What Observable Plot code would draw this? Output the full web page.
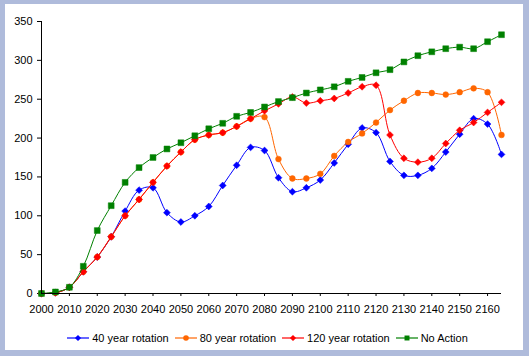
<!DOCTYPE html>
<html><head><meta charset="utf-8">
<script src="https://cdn.jsdelivr.net/npm/d3@7"></script>
<script src="https://cdn.jsdelivr.net/npm/@observablehq/plot@0.6"></script>
<style>
html,body{margin:0;padding:0;background:#afbbdb;width:529px;height:356px;overflow:hidden;}
#frame{position:absolute;left:5px;top:4px;width:518px;height:346px;background:#fff;font-family:Arial,"Liberation Sans",sans-serif;}
#chart{position:absolute;left:0;top:0;}
#legend{position:absolute;left:3px;top:326px;width:518px;height:16px;display:flex;justify-content:center;align-items:center;font-size:11px;line-height:16px;color:#000;}
.item{display:flex;align-items:center;margin:0 2.5px;}
.item svg{margin-right:2px;}
</style>
</head><body>
<div id="frame"><div id="chart"></div><div id="legend"></div></div>
<script>
const years = [2000,2005,2010,2015,2020,2025,2030,2035,2040,2045,2050,2055,2060,2065,2070,2075,2080,2085,2090,2095,2100,2105,2110,2115,2120,2125,2130,2135,2140,2145,2150,2155,2160,2165];
const rot40 = [0,1,8,28,47,73,106,133,136,104,92,100,112,139,165,188,184,149,131,136,146,168,192,213,207,170,152,152,161,182,205,225,218,179];
const rot80 = [0,1,8,28,47,73,100,121,143,164,182,198,204,207,215,225,227,173,148,148,154,177,195,206,220,236,248,258,258,256,259,264,259,204];
const rot120 = [0,1,8,28,47,73,100,121,143,164,182,198,204,207,215,225,235,244,253,245,248,251,258,266,268,204,174,169,174,193,210,220,233,246];
const noAction = [0,2,8,35,81,113,143,162,175,186,194,203,212,219,228,233,240,247,252,258,262,266,273,278,284,288,298,306,311,315,317,315,324,333];
const seriesNames = ["40 year rotation","80 year rotation","120 year rotation","No Action"];
const xTicks = [2000,2010,2020,2030,2040,2050,2060,2070,2080,2090,2100,2110,2120,2130,2140,2150,2160];
const yTicks = [0,50,100,150,200,250,300,350];

const colors = ["#0000ff","#ff6600","#ff0000","#008000"];
const symbols = ["diamond2","circle","diamond2","square"];
const sizes = [3.1,2.9,3.1,3.3];
const valuesList = [rot40, rot80, rot120, noAction];

const seriesRows = valuesList.map((vals, i) => years.map((y, j) => ({year: y, value: vals[j], series: seriesNames[i]})));

const marks = [];
seriesRows.forEach((rows, i) => {
  marks.push(Plot.line(rows, {x: "year", y: "value", stroke: colors[i], strokeWidth: 1, curve: "catmull-rom"}));
  marks.push(Plot.dot(rows, {x: "year", y: "value", symbol: () => symbols[i], fill: colors[i], stroke: colors[i], strokeWidth: 0.5, r: sizes[i]}));
});

const chart = Plot.plot({
  width: 518,
  height: 318,
  marginLeft: 36,
  marginRight: 22,
  marginTop: 17,
  marginBottom: 29,
  style: {fontSize: "11px", fontFamily: "Arial, 'Liberation Sans', sans-serif", color: "#000", background: "transparent"},
  x: {domain: [2000, 2165]},
  y: {domain: [0, 350]},
  symbol: {domain: symbols, range: symbols},
  marks: [
    Plot.axisX(xTicks, {tickSize: 3, tickPadding: 9, tickFormat: d => String(d), label: null, stroke: "#000"}),
    Plot.axisY(yTicks, {tickSize: 4, tickPadding: 5, label: null, stroke: "#000"}),
    ...marks,
    Plot.ruleX([2000], {stroke: "#000"}),
    Plot.ruleY([0], {stroke: "#000"})
  ]
});
document.getElementById("chart").appendChild(chart);

const legend = d3.select("#legend");
seriesNames.forEach((name, i) => {
  const item = legend.append("div").attr("class", "item");
  const svg = item.append("svg").attr("width", 24).attr("height", 10);
  svg.append("line").attr("x1", 1).attr("x2", 23).attr("y1", 5).attr("y2", 5).attr("stroke", colors[i]).attr("stroke-width", 1.2);
  const sym = {diamond2: d3.symbolDiamond2, circle: d3.symbolCircle, square: d3.symbolSquare}[symbols[i]];
  svg.append("path").attr("d", d3.symbol(sym, Math.PI * 2.8 * 2.8)()).attr("transform", "translate(12,5)").attr("fill", colors[i]);
  item.append("span").text(name);
});
</script>
</body></html>
